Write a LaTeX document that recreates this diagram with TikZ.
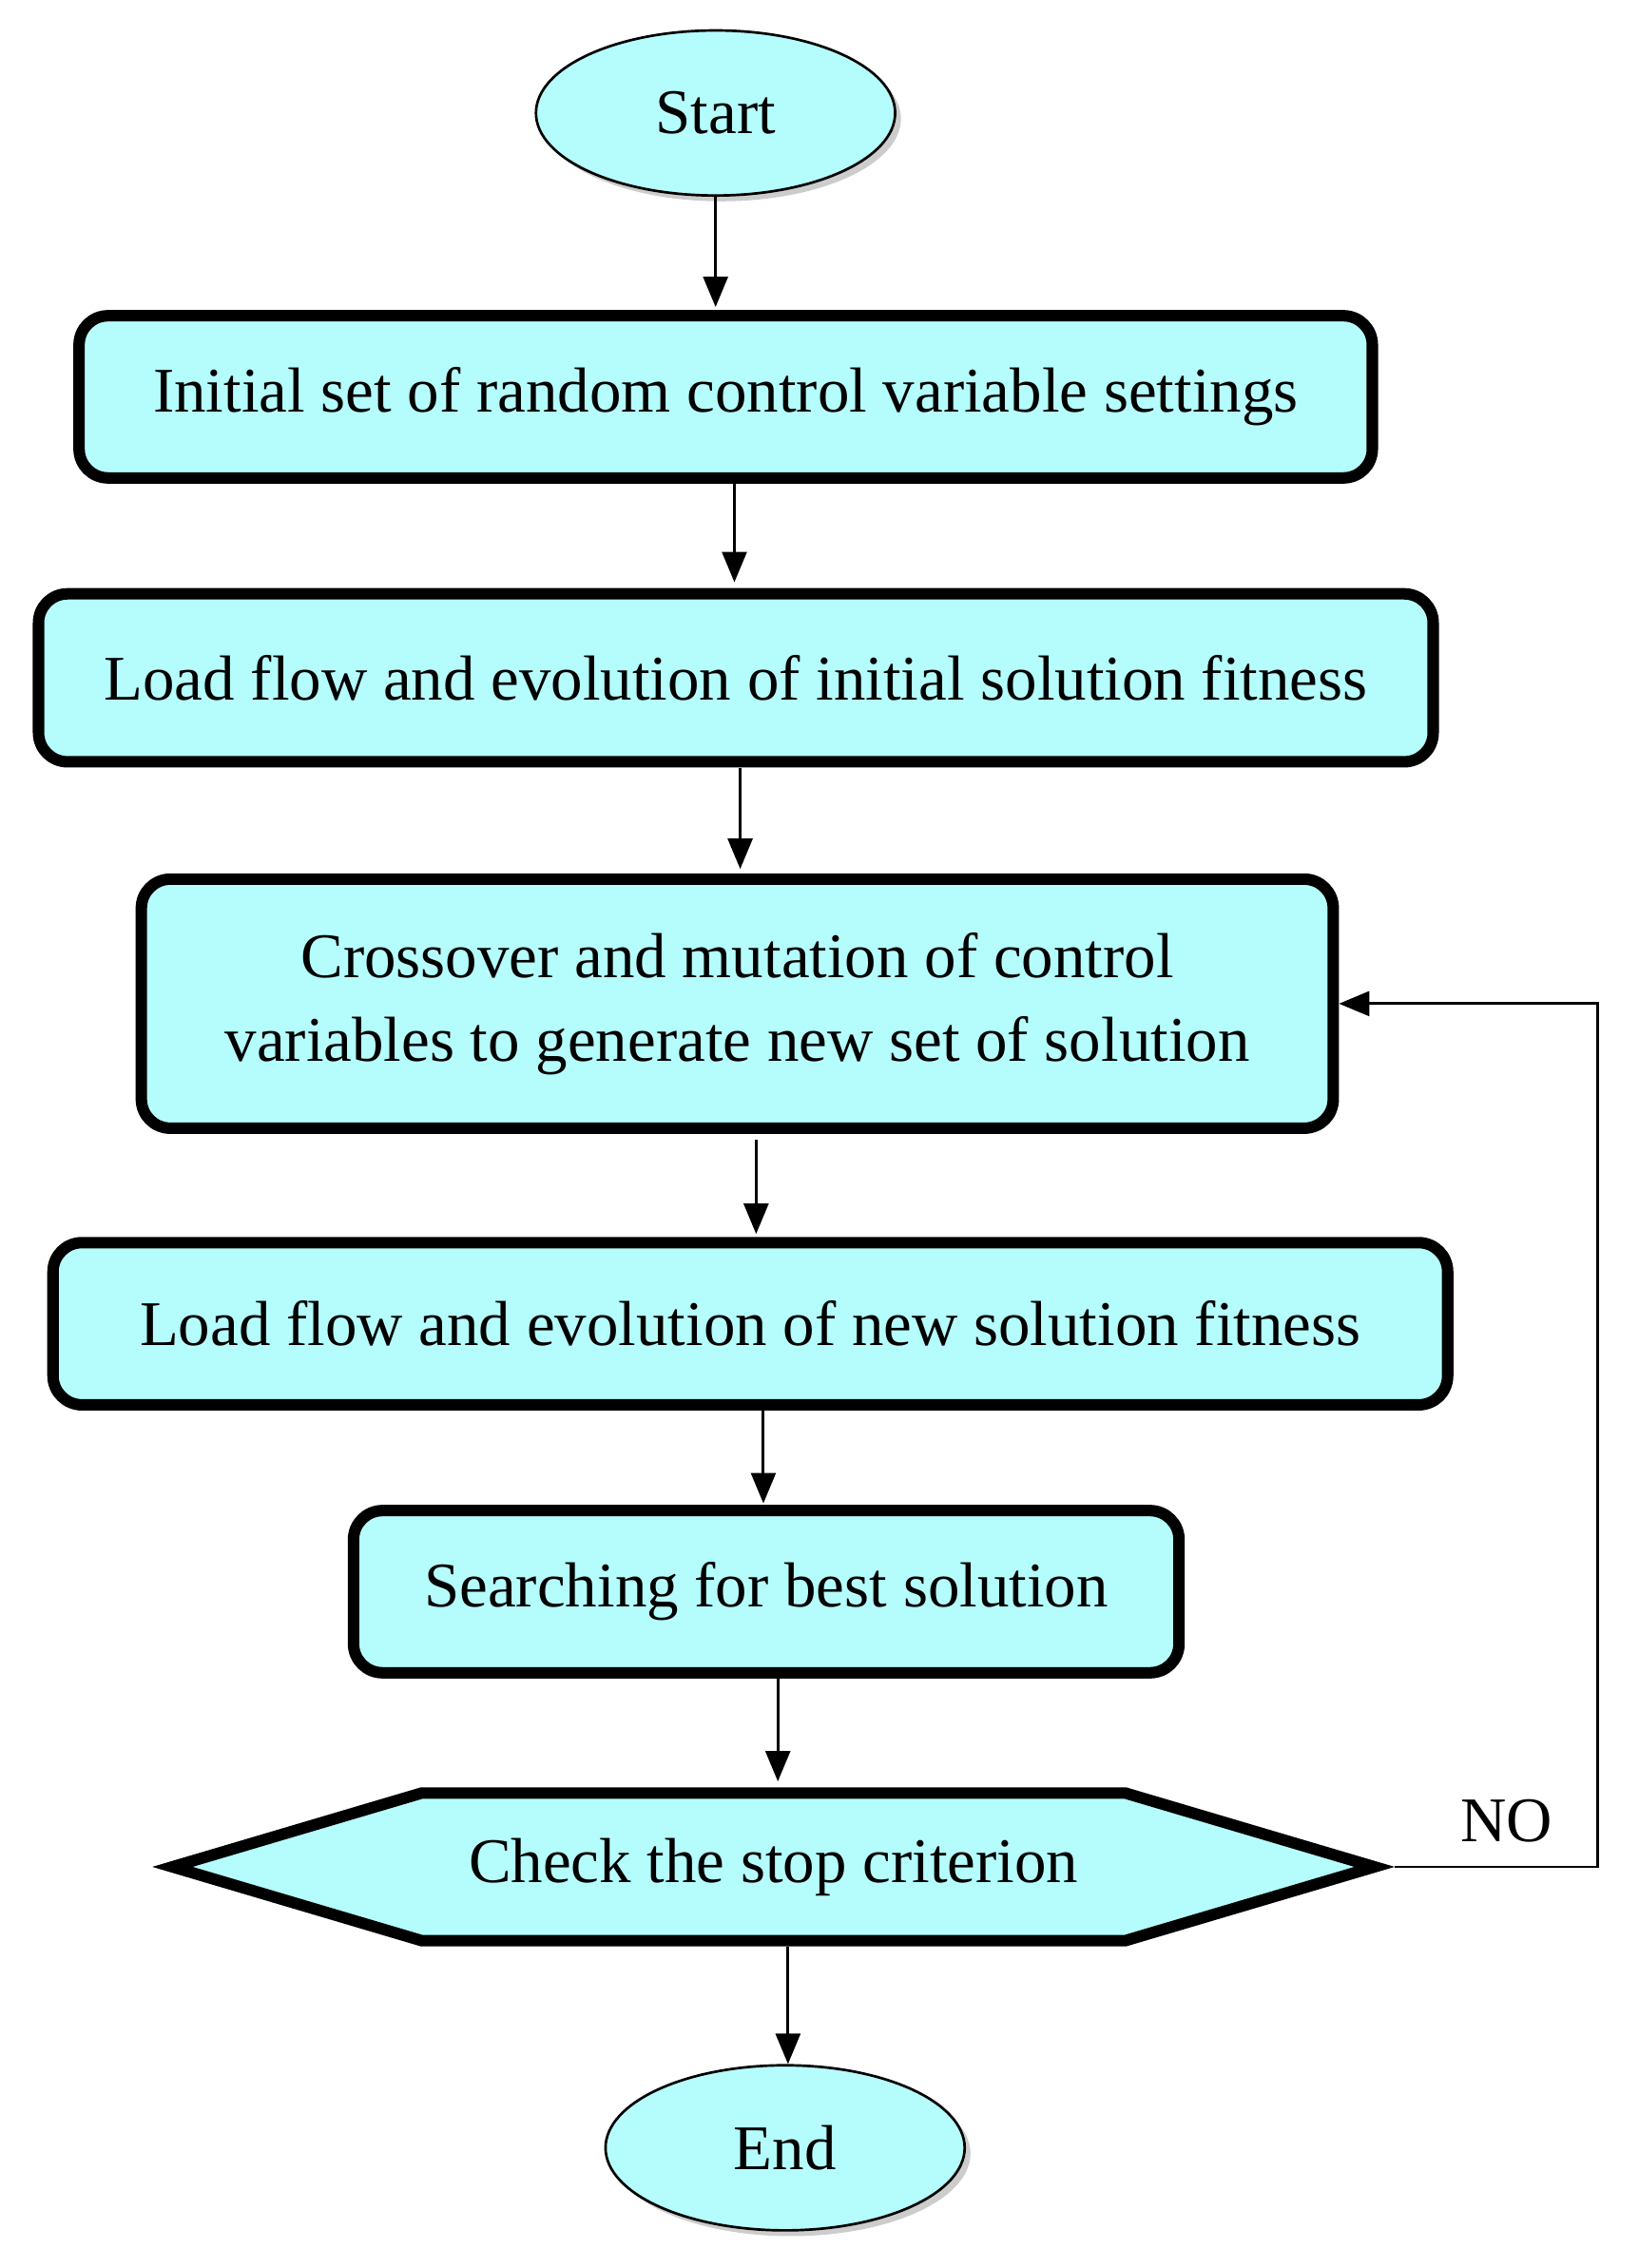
\documentclass[tikz,border=0pt]{standalone}
\usepackage{fontspec}
\setmainfont{Liberation Serif}
\usetikzlibrary{arrows.meta, positioning, shapes.geometric, shapes.symbols, shadows}
\definecolor{boxfill}{HTML}{B5FCFC}

\begin{document}
\begin{tikzpicture}[x=0.02cm, y=-0.02cm, font=\fontsize{25}{33}\selectfont]
\tikzstyle{block} = [rectangle, draw, line width=4.5pt, fill=boxfill, rounded corners=0.4cm,
    text centered, drop shadow={shadow xshift=0.06cm, shadow yshift=-0.06cm, opacity=0.4}]
\tikzstyle{term} = [ellipse, draw, line width=1pt, fill=boxfill, minimum width=4.96cm, minimum height=2.28cm,
    drop shadow={shadow xshift=0.08cm, shadow yshift=-0.08cm, opacity=0.4}]
\tikzstyle{arrow} = [line width=1.1pt, -{Triangle[length=0.42cm, width=0.34cm]}]
\useasboundingbox (0,0) rectangle (1131,1566);

% Nodes
\node [term] (start) at (494,78) {Start};
\node [block, minimum width=17.86cm, minimum height=2.24cm] (init) at (501,274) {Initial set of random control variable settings};
\node [block, minimum width=19.26cm, minimum height=2.32cm] (loadinit) at (508,468) {Load flow and evolution of initial solution fitness};
\node [block, minimum width=16.46cm, minimum height=3.44cm, align=center] (cross) at (509,693) {Crossover and mutation of control\\variables to generate new set of solution};
\node [block, minimum width=19.26cm, minimum height=2.24cm] (loadnew) at (518,914) {Load flow and evolution of new solution fitness};
\node [block, minimum width=11.4cm, minimum height=2.24cm] (search) at (529,1099) {Searching for best solution};
\node [signal, signal to=east and west, signal pointer angle=33, draw, line width=4.5pt, fill=boxfill,
    minimum width=16.6cm, minimum height=2.04cm,
    drop shadow={shadow xshift=0.06cm, shadow yshift=-0.06cm, opacity=0.4}] (check) at (534,1289) {Check the stop criterion};
\node [term] (end) at (542,1483) {End};
\coordinate (corner) at (1103,693);
\node (no) at (1040,1257) {NO};

% Arrows
\draw [arrow] (start.south) -- (start.south |- 0,212);
\draw [arrow] (507,332) -- (507,402);
\draw [arrow] (511,530) -- (511,600);
\draw [arrow] (522,787) -- (522,852);
\draw [arrow] (527,974) -- (527,1038);
\draw [arrow] (537,1159) -- (537,1230);
\draw [arrow] (check.south -| 544,0) -- (end.north -| 544,0);
\draw [arrow] (check.east) -| (corner) -- (cross.east);
\end{tikzpicture}
\end{document}
